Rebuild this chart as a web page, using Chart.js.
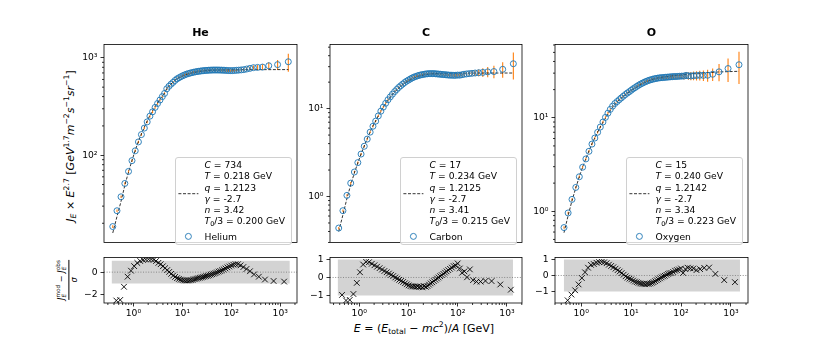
<!DOCTYPE html>
<html>
<head>
<meta charset="utf-8">
<script src="https://cdn.jsdelivr.net/npm/chart.js@4.4.1/dist/chart.umd.min.js"></script>
<style>
  body { margin: 0; background: #fff; font-family: 'DejaVu Sans', sans-serif; color: #000; }
  #fig { position: relative; width: 830px; height: 346px; overflow: hidden; background: #fff; }
  canvas { position: absolute; }
  .txt { position: absolute; white-space: nowrap; line-height: 1; }
  .title { font-size: 11px; font-weight: bold; transform: translate(-50%, -50%); }
  sup, sub { font-size: 70%; line-height: 0; }
  sup { vertical-align: 0.55em; }
  sub { vertical-align: -0.3em; }
  .ss { display: inline-flex; flex-direction: column; font-size: 70%; line-height: 1.05; vertical-align: middle; }
  .legend { position: absolute; border: 1px solid #d0d0d0; border-radius: 3px; background: rgba(255,255,255,0.8); box-sizing: border-box; font-size: 9.2px; }
  .legend .row { position: absolute; left: 29px; transform: translateY(-50%); white-space: nowrap; line-height: 1; }
  .legend svg { position: absolute; left: 0; top: 0; }
</style>
</head>
<body>
<div id="fig">
  <div class="txt" style="left:70px; top:146px; font-size:11px; transform:translate(-50%,-50%) rotate(-90deg);">
    <i>J</i><sub><i>E</i></sub> × <i>E</i><sup>2.7</sup> [<i>GeV</i><sup>1.7</sup><i>m</i><sup>−2</sup><i>s</i><sup>−1</sup><i>sr</i><sup>−1</sup>]
  </div>
  <div class="txt" style="left:67px; top:280px; font-size:8.2px; transform:translate(-50%,-50%) rotate(-90deg); display:flex; flex-direction:column; align-items:center;">
    <div><i>J</i><span class="ss"><span>mod</span><span><i>E</i></span></span> − <i>J</i><span class="ss"><span>obs</span><span><i>E</i></span></span></div>
    <div style="width:100%; border-top:0.8px solid #000; margin:1px 0;"></div>
    <div><i>σ</i></div>
  </div>
  <div class="txt" style="left:424px; top:328px; font-size:11px; transform:translate(-50%,-50%);">
    <i>E</i> = (<i>E</i><sub>total</sub> − <i>mc</i><sup>2</sup>)/<i>A</i> [GeV]
  </div>
</div>
<script>
// ---- data ----
const titles = ['He', 'C', 'O'];
const elementNames = ['Helium', 'Carbon', 'Oxygen'];
const paramC = ['734', '17', '15'];
const paramT = ['0.218', '0.234', '0.240'];
const paramQ = ['1.2123', '1.2125', '1.2142'];
const paramGamma = ['-2.7', '-2.7', '-2.7'];
const paramN = ['3.42', '3.41', '3.34'];
const paramT0 = ['0.200', '0.215', '0.223'];

// kinetic energy per nucleon (GeV), shared by all three panels
const energy = [
  0.367, 0.446, 0.537, 0.640, 0.759, 0.890, 1.034, 1.198, 1.375, 1.574,
  1.793, 2.034, 2.296, 2.585, 2.894, 3.234, 3.600, 3.997, 4.425, 4.893,
  5.388, 5.907, 6.477, 7.100, 7.770, 8.490, 9.260, 10.08, 10.98, 11.95,
  12.97, 14.07, 15.25, 16.49, 17.84, 19.29, 20.84, 22.49, 24.26, 26.16,
  28.18, 30.36, 32.71, 35.23, 37.93, 40.83, 43.95, 47.32, 51.08, 55.08,
  59.33, 64.08, 69.58, 75.83, 82.83, 90.83, 99.80, 110.1, 122.1, 136.6,
  154.3, 176.3, 204.1, 240.6, 291.1, 365.3, 487.1, 731.6, 1199
];

const heFlux = [
  18.5, 26.9, 37.4, 51.3, 68.2, 88.0, 111, 137, 163, 190,
  220, 252, 279, 310, 340, 369, 400, 431, 481, 511,
  537, 560, 586, 609, 625, 641, 656, 668, 680, 689,
  698, 705, 712, 718, 723, 728, 732, 736, 739, 742,
  744, 746, 748, 749, 750, 750, 750, 750, 749, 748,
  747, 745, 743, 741, 740, 740, 742, 745, 748, 752,
  757, 768, 780, 793, 798, 804, 830, 852, 912
];
const heErr = [
  0.6, 0.8, 1.1, 1.5, 2.0, 2.6, 3.3, 4.1, 4.9, 5.7,
  6.6, 7.6, 8.4, 9.3, 10, 11, 12, 13, 14, 15,
  16, 17, 17, 18, 18, 19, 19, 20, 20, 20,
  21, 21, 21, 21, 22, 22, 22, 22, 22, 22,
  22, 22, 22, 22, 23, 23, 23, 23, 23, 23,
  23, 23, 24, 24, 24, 25, 25, 26, 27, 28,
  30, 32, 35, 40, 46, 55, 70, 100, 190
];
const heResid = [
  -3.6, -2.5, -2.45, -1.29, -0.4, 0.13, 0.53, 0.81, 0.98, 1.07,
  1.12, 1.14, 1.13, 1.08, 0.98, 0.82, 0.7, 0.52, 0.35, 0.18,
  0.02, -0.15, -0.3, -0.42, -0.53, -0.6, -0.66, -0.7, -0.73, -0.74,
  -0.74, -0.72, -0.7, -0.66, -0.62, -0.58, -0.54, -0.5, -0.47, -0.43,
  -0.39, -0.35, -0.32, -0.28, -0.22, -0.18, -0.13, -0.08, -0.02, 0.05,
  0.1, 0.17, 0.25, 0.33, 0.42, 0.5, 0.58, 0.65, 0.7, 0.7,
  0.6, 0.45, 0.28, 0.08, -0.2, -0.4, -0.65, -0.78, -0.83
];

const cFlux = [
  0.438, 0.69, 1.03, 1.42, 1.90, 2.43, 3.04, 3.73, 4.50, 5.40,
  6.30, 7.20, 8.26, 9.35, 10.4, 11.5, 12.6, 13.6, 14.6, 15.6,
  16.5, 17.4, 18.2, 19.0, 19.8, 20.5, 21.1, 21.7, 22.3, 22.8,
  23.2, 23.6, 23.9, 24.2, 24.4, 24.6, 24.8, 24.9, 25.0, 25.0,
  25.0, 25.0, 24.9, 24.8, 24.7, 24.6, 24.5, 24.4, 24.3, 24.2,
  24.1, 24.0, 24.0, 23.9, 23.9, 24.1, 24.0, 24.3, 24.6, 24.8,
  25.0, 25.2, 25.4, 25.6, 25.8, 26.2, 26.4, 28.0, 32.4
];
const cErr = [
  0.013, 0.02, 0.03, 0.04, 0.06, 0.07, 0.09, 0.11, 0.14, 0.16,
  0.19, 0.22, 0.25, 0.28, 0.31, 0.35, 0.38, 0.41, 0.44, 0.47,
  0.50, 0.52, 0.55, 0.57, 0.59, 0.62, 0.63, 0.65, 0.67, 0.68,
  0.70, 0.71, 0.72, 0.73, 0.73, 0.74, 0.74, 0.75, 0.75, 0.75,
  0.75, 0.75, 0.75, 0.75, 0.75, 0.75, 0.75, 0.76, 0.78, 0.80,
  0.82, 0.85, 0.88, 0.92, 0.96, 1.0, 1.0, 1.1, 1.2, 1.3,
  1.4, 1.6, 1.9, 2.2, 2.9, 3.5, 4.3, 5.6, 11
];
const cResid = [
  -2.0, -0.97, -1.28, -1.25, -0.92, -0.3, 0.29, 0.72, 0.87, 0.85,
  0.76, 0.68, 0.6, 0.52, 0.44, 0.36, 0.29, 0.22, 0.15, 0.08,
  0.0, -0.06, -0.13, -0.19, -0.25, -0.32, -0.38, -0.44, -0.48, -0.5,
  -0.5, -0.52, -0.5, -0.53, -0.5, -0.55, -0.48, -0.52, -0.47, -0.4,
  -0.33, -0.27, -0.2, -0.13, -0.06, 0.0, 0.07, 0.13, 0.2, 0.27,
  0.34, 0.41, 0.48, 0.55, 0.63, 0.66, 0.78, 0.5, 0.26, 0.34,
  0.01, 0.45, -0.15, -0.23, -0.23, -0.19, -0.2, -0.39, -0.68
];

const oFlux = [
  null, 0.67, 0.96, 1.34, 1.80, 2.34, 2.96, 3.63, 4.38, 5.23,
  6.07, 6.99, 7.96, 9.0, 10.1, 11.2, 12.3, 13.3, 14.2, 14.9,
  15.6, 16.3, 17.0, 17.7, 18.4, 19.0, 19.7, 20.4, 21.0, 21.7,
  22.3, 22.9, 23.4, 23.9, 24.4, 24.8, 25.2, 25.5, 25.8, 26.1,
  26.3, 26.5, 26.7, 26.8, 26.9, 27.0, 27.1, 27.2, 27.3, 27.4,
  27.5, 27.6, 27.6, 27.7, 27.8, 27.9, 27.9, 28.4, 28.1, 28.0,
  28.2, 28.3, 28.5, 28.4, 28.5, 29.2, 31.0, 33.6, 36.9
];
const oErr = [
  null, 0.02, 0.03, 0.04, 0.05, 0.07, 0.09, 0.11, 0.13, 0.16,
  0.18, 0.21, 0.24, 0.27, 0.30, 0.34, 0.37, 0.40, 0.43, 0.45,
  0.47, 0.49, 0.51, 0.53, 0.55, 0.57, 0.59, 0.61, 0.63, 0.65,
  0.67, 0.69, 0.70, 0.72, 0.73, 0.74, 0.77, 0.80, 0.82, 0.85,
  0.88, 0.90, 0.92, 0.95, 0.98, 1.0, 1.05, 1.1, 1.15, 1.2,
  1.3, 1.5, 1.6, 1.7, 1.8, 2.0, 2.2, 2.4, 2.6, 2.8,
  3.0, 3.2, 3.4, 3.6, 4.2, 4.5, 6.5, 9.5, 14
];
const oResid = [
  null, -2.4, -1.56, -1.2, -0.93, -0.56, -0.16, 0.2, 0.49, 0.67,
  0.72, 0.8, 0.84, 0.86, 0.83, 0.77, 0.68, 0.6, 0.52, 0.43,
  0.34, 0.25, 0.15, 0.05, -0.05, -0.14, -0.2, -0.25, -0.32, -0.38,
  -0.42, -0.46, -0.5, -0.52, -0.53, -0.55, -0.52, -0.53, -0.5, -0.46,
  -0.42, -0.36, -0.3, -0.24, -0.18, -0.12, -0.06, -0.02, 0.04, 0.1,
  0.14, 0.16, 0.22, 0.3, 0.34, 0.38, 0.44, 0.16, 0.4, 0.49,
  0.45, 0.44, 0.34, 0.4, 0.48, 0.5, 0.1, -0.29, -0.42
];

// fitted model curve (dashed line)
const modelEnergy = [
  0.367, 0.446, 0.537, 0.640, 0.759, 0.890, 1.034, 1.198, 1.375, 1.574,
  1.793, 2.034, 2.296, 2.585, 2.894, 3.234, 3.600, 3.997, 4.425, 4.893,
  5.388, 6.477, 7.770, 9.260, 10.98, 12.97, 15.25, 19.29, 24.26, 30.36,
  40.83, 55.08, 75.83, 99.80, 154.3, 240.6, 487.1, 1199
];
const heModel = [
  15.9, 23.5, 33.5, 49.0, 67.3, 88.3, 112, 139, 166, 194,
  225, 257, 285, 316, 345, 374, 405, 436, 484, 513,
  540, 590, 628, 652, 674, 692, 707, 723, 735, 742,
  748, 751, 753, 754, 756, 757, 757, 758
];
const cModel = [
  0.40, 0.62, 0.95, 1.36, 1.86, 2.42, 3.05, 3.76, 4.55, 5.45,
  6.35, 7.25, 8.30, 9.35, 10.4, 11.45, 12.5, 13.5, 14.5, 15.45,
  16.35, 17.95, 19.4, 20.6, 21.7, 22.6, 23.4, 24.2, 24.7, 25.0,
  25.2, 25.25, 25.3, 25.3, 25.35, 25.4, 25.4, 25.4
];
const oModel = [
  null, 0.59, 0.90, 1.30, 1.78, 2.35, 2.98, 3.67, 4.42, 5.27,
  6.12, 7.02, 7.98, 8.95, 9.95, 10.95, 11.95, 12.9, 13.8, 14.7,
  15.5, 16.9, 18.2, 19.5, 20.7, 21.9, 23.0, 24.5, 25.7, 26.6,
  27.3, 27.9, 28.5, 28.9, 29.6, 30.2, 30.9, 31.4
];

// tick values
const mainYTicks = [[100, 1000], [1, 10], [1, 10]];
const residXTicks = [1, 10, 100, 1000];
const residYTicks = [[-2, 0], [-1, 0, 1], [-1, 0, 1]];

// ---- layout / axis ranges ----
const layout = [
  { left: 104, right: 297 },
  { left: 330, right: 522 },
  { left: 555, right: 748 }
];
const MAIN_TOP = 42, MAIN_BOTTOM = 250, RESID_BOTTOM = 303, YAXIS_W = 45;
const mainXRange = [[0.245, 1790], [0.245, 1790], [0.297, 1800]];
const mainYRange = [[12.7, 1371], [0.316, 53.6], [0.464, 60.7]];
const residXRange = [[0.25, 2200], [0.254, 2020], [0.307, 2190]];
const residYRange = [[-2.72, 1.29], [-1.42, 1.11], [-1.73, 1.13]];
const bandRange = [[0.357, 1570], [0.363, 1325], [0.45, 1514]];

Chart.defaults.font.family = "'DejaVu Sans', sans-serif";
Chart.defaults.font.size = 9.2;
Chart.defaults.color = '#000';

const fig = document.getElementById('fig');
const SUP = { '0': '⁰', '1': '¹', '2': '²', '3': '³' };

function decadeLabel(v) {
  return '10' + SUP[String(Math.round(Math.log10(v)))];
}

function pts(xs, ys) {
  return xs.map((x, i) => ({ x: x, y: ys[i] })).filter(p => p.y != null);
}

function addCanvas(left, top, w, h) {
  const c = document.createElement('canvas');
  c.width = w; c.height = h;
  c.style.left = left + 'px'; c.style.top = top + 'px';
  c.style.width = w + 'px'; c.style.height = h + 'px';
  fig.appendChild(c);
  return c;
}

const tickGrid = { display: true, drawOnChartArea: false, drawTicks: true, tickLength: 3.5, tickColor: '#000', tickWidth: 0.8 };

// frame on all four sides and minor ticks on log axes
const axisDeco = {
  id: 'axisDeco',
  afterDraw(chart) {
    const ctx = chart.ctx, a = chart.chartArea;
    ctx.save();
    ctx.strokeStyle = '#000';
    ctx.lineWidth = 0.8;
    ctx.strokeRect(a.left, a.top, a.right - a.left, a.bottom - a.top);
    ['x', 'y'].forEach(id => {
      const s = chart.scales[id];
      if (!s || s.type !== 'logarithmic' || !s.options.display) return;
      for (let k = Math.floor(Math.log10(s.min)); k <= Math.ceil(Math.log10(s.max)); k++) {
        for (let m = 2; m < 10; m++) {
          const v = m * Math.pow(10, k);
          if (v < s.min || v > s.max) continue;
          const p = s.getPixelForValue(v);
          ctx.beginPath();
          if (id === 'x') { ctx.moveTo(p, a.bottom); ctx.lineTo(p, a.bottom + 2); }
          else { ctx.moveTo(a.left, p); ctx.lineTo(a.left - 2, p); }
          ctx.stroke();
        }
      }
    });
    ctx.restore();
  }
};

function errorBars(xs, ys, errs) {
  return {
    id: 'errorBars',
    beforeDatasetsDraw(chart) {
      const ctx = chart.ctx, a = chart.chartArea;
      const sx = chart.scales.x, sy = chart.scales.y;
      ctx.save();
      ctx.beginPath();
      ctx.rect(a.left, a.top, a.right - a.left, a.bottom - a.top);
      ctx.clip();
      ctx.strokeStyle = '#ff7f0e';
      ctx.lineWidth = 1.1;
      xs.forEach((e, i) => {
        const v = ys[i], d = errs[i];
        if (v == null) return;
        const px = sx.getPixelForValue(e);
        ctx.beginPath();
        ctx.moveTo(px, sy.getPixelForValue(Math.max(v - d, 1e-6)));
        ctx.lineTo(px, sy.getPixelForValue(v + d));
        ctx.stroke();
      });
      ctx.restore();
    }
  };
}

function drawMain(i, flux, err, model) {
  const L = layout[i];
  const w = YAXIS_W + (L.right - L.left) + 8;
  const h = 6 + (MAIN_BOTTOM - MAIN_TOP) + 1;
  const c = addCanvas(L.left - YAXIS_W, MAIN_TOP - 6, w, h);
  new Chart(c, {
    type: 'scatter',
    data: {
      datasets: [
        {
          data: pts(energy, flux),
          pointStyle: 'circle', pointRadius: 3, borderWidth: 0.9,
          borderColor: '#1f77b4', backgroundColor: 'rgba(0,0,0,0)'
        },
        {
          type: 'line',
          data: pts(modelEnergy, model),
          borderColor: '#000', borderWidth: 0.8, borderDash: [3, 1.6],
          pointRadius: 0, fill: false, tension: 0
        }
      ]
    },
    options: {
      responsive: false, animation: false, events: [],
      layout: { padding: { top: 6, right: 8, bottom: 1, left: 0 } },
      plugins: { legend: { display: false }, tooltip: { enabled: false } },
      scales: {
        x: { type: 'logarithmic', display: false, min: mainXRange[i][0], max: mainXRange[i][1] },
        y: {
          type: 'logarithmic', min: mainYRange[i][0], max: mainYRange[i][1],
          afterFit(s) { s.width = YAXIS_W; },
          afterBuildTicks(s) { s.ticks = mainYTicks[i].map(v => ({ value: v })); },
          ticks: { callback: v => decadeLabel(v), padding: 3, autoSkip: false },
          grid: tickGrid,
          border: { display: false }
        }
      }
    },
    plugins: [errorBars(energy, flux, err), axisDeco]
  });
}

function drawResid(i, resid) {
  const L = layout[i];
  const w = YAXIS_W + (L.right - L.left) + 8;
  const h = 1 + (RESID_BOTTOM - MAIN_BOTTOM) + 22;
  const c = addCanvas(L.left - YAXIS_W, MAIN_BOTTOM - 1, w, h);
  const xr = residXRange[i], br = bandRange[i];
  new Chart(c, {
    type: 'scatter',
    data: {
      datasets: [
        {
          data: pts(energy, resid),
          pointStyle: 'crossRot', pointRadius: 4, borderWidth: 0.9,
          borderColor: '#000', backgroundColor: '#000'
        },
        {
          type: 'line',
          data: [{ x: xr[0], y: 0 }, { x: xr[1], y: 0 }],
          borderColor: '#808080', borderWidth: 0.9, borderDash: [1, 1.6],
          pointRadius: 0, fill: false
        },
        {
          type: 'line',
          data: [{ x: br[0], y: 1 }, { x: br[1], y: 1 }],
          borderColor: 'rgba(0,0,0,0)', borderWidth: 0, pointRadius: 0,
          fill: '+1', backgroundColor: '#d3d3d3'
        },
        {
          type: 'line',
          data: [{ x: br[0], y: -1 }, { x: br[1], y: -1 }],
          borderColor: 'rgba(0,0,0,0)', borderWidth: 0, pointRadius: 0, fill: false
        }
      ]
    },
    options: {
      responsive: false, animation: false, events: [],
      layout: { padding: { top: 1, right: 8, bottom: 0, left: 0 } },
      plugins: { legend: { display: false }, tooltip: { enabled: false } },
      scales: {
        x: {
          type: 'logarithmic', min: xr[0], max: xr[1],
          afterFit(s) { s.height = 22; },
          afterBuildTicks(s) { s.ticks = residXTicks.map(v => ({ value: v })); },
          ticks: { callback: v => decadeLabel(v), padding: 2, autoSkip: false, maxRotation: 0 },
          grid: tickGrid,
          border: { display: false }
        },
        y: {
          type: 'linear', min: residYRange[i][0], max: residYRange[i][1],
          afterFit(s) { s.width = YAXIS_W; },
          afterBuildTicks(s) { s.ticks = residYTicks[i].map(v => ({ value: v })); },
          ticks: { callback: v => String(v).replace('-', '−'), padding: 3, autoSkip: false },
          grid: tickGrid,
          border: { display: false }
        }
      }
    },
    plugins: [axisDeco]
  });
}

function drawLegend(i) {
  const L = layout[i];
  const box = document.createElement('div');
  box.className = 'legend';
  const bw = 117.5, bh = 87.7;
  box.style.left = (L.right - 5 - bw) + 'px';
  box.style.top = '157.3px';
  box.style.width = bw + 'px';
  box.style.height = bh + 'px';
  const rows = [
    `<i>C</i> = ${paramC[i]}`,
    `<i>T</i> = ${paramT[i]} GeV`,
    `<i>q</i> = ${paramQ[i]}`,
    `<i>γ</i> = ${paramGamma[i]}`,
    `<i>n</i> = ${paramN[i]}`,
    `<i>T</i><sub>0</sub>/3 = ${paramT0[i]} GeV`,
    elementNames[i]
  ];
  const rowY = [6.7, 18, 29.3, 40.6, 51.9, 63.2, 78.4];
  let html = `<svg width="${bw}" height="${bh}">
    <line x1="2.4" x2="22.4" y1="35.7" y2="35.7" stroke="#000" stroke-width="0.8" stroke-dasharray="3 1.6"/>
    <circle cx="12.4" cy="78.4" r="3" fill="none" stroke="#1f77b4" stroke-width="0.9"/>
  </svg>`;
  rows.forEach((r, k) => {
    html += `<div class="row" style="top:${rowY[k]}px">${r}</div>`;
  });
  box.innerHTML = html;
  fig.appendChild(box);
}

function drawTitle(i) {
  const L = layout[i];
  const t = document.createElement('div');
  t.className = 'txt title';
  t.style.left = ((L.left + L.right) / 2) + 'px';
  t.style.top = '32px';
  t.textContent = titles[i];
  fig.appendChild(t);
}

drawMain(0, heFlux, heErr, heModel);
drawMain(1, cFlux, cErr, cModel);
drawMain(2, oFlux, oErr, oModel);
drawResid(0, heResid);
drawResid(1, cResid);
drawResid(2, oResid);
[0, 1, 2].forEach(i => { drawLegend(i); drawTitle(i); });
</script>
</body>
</html>
